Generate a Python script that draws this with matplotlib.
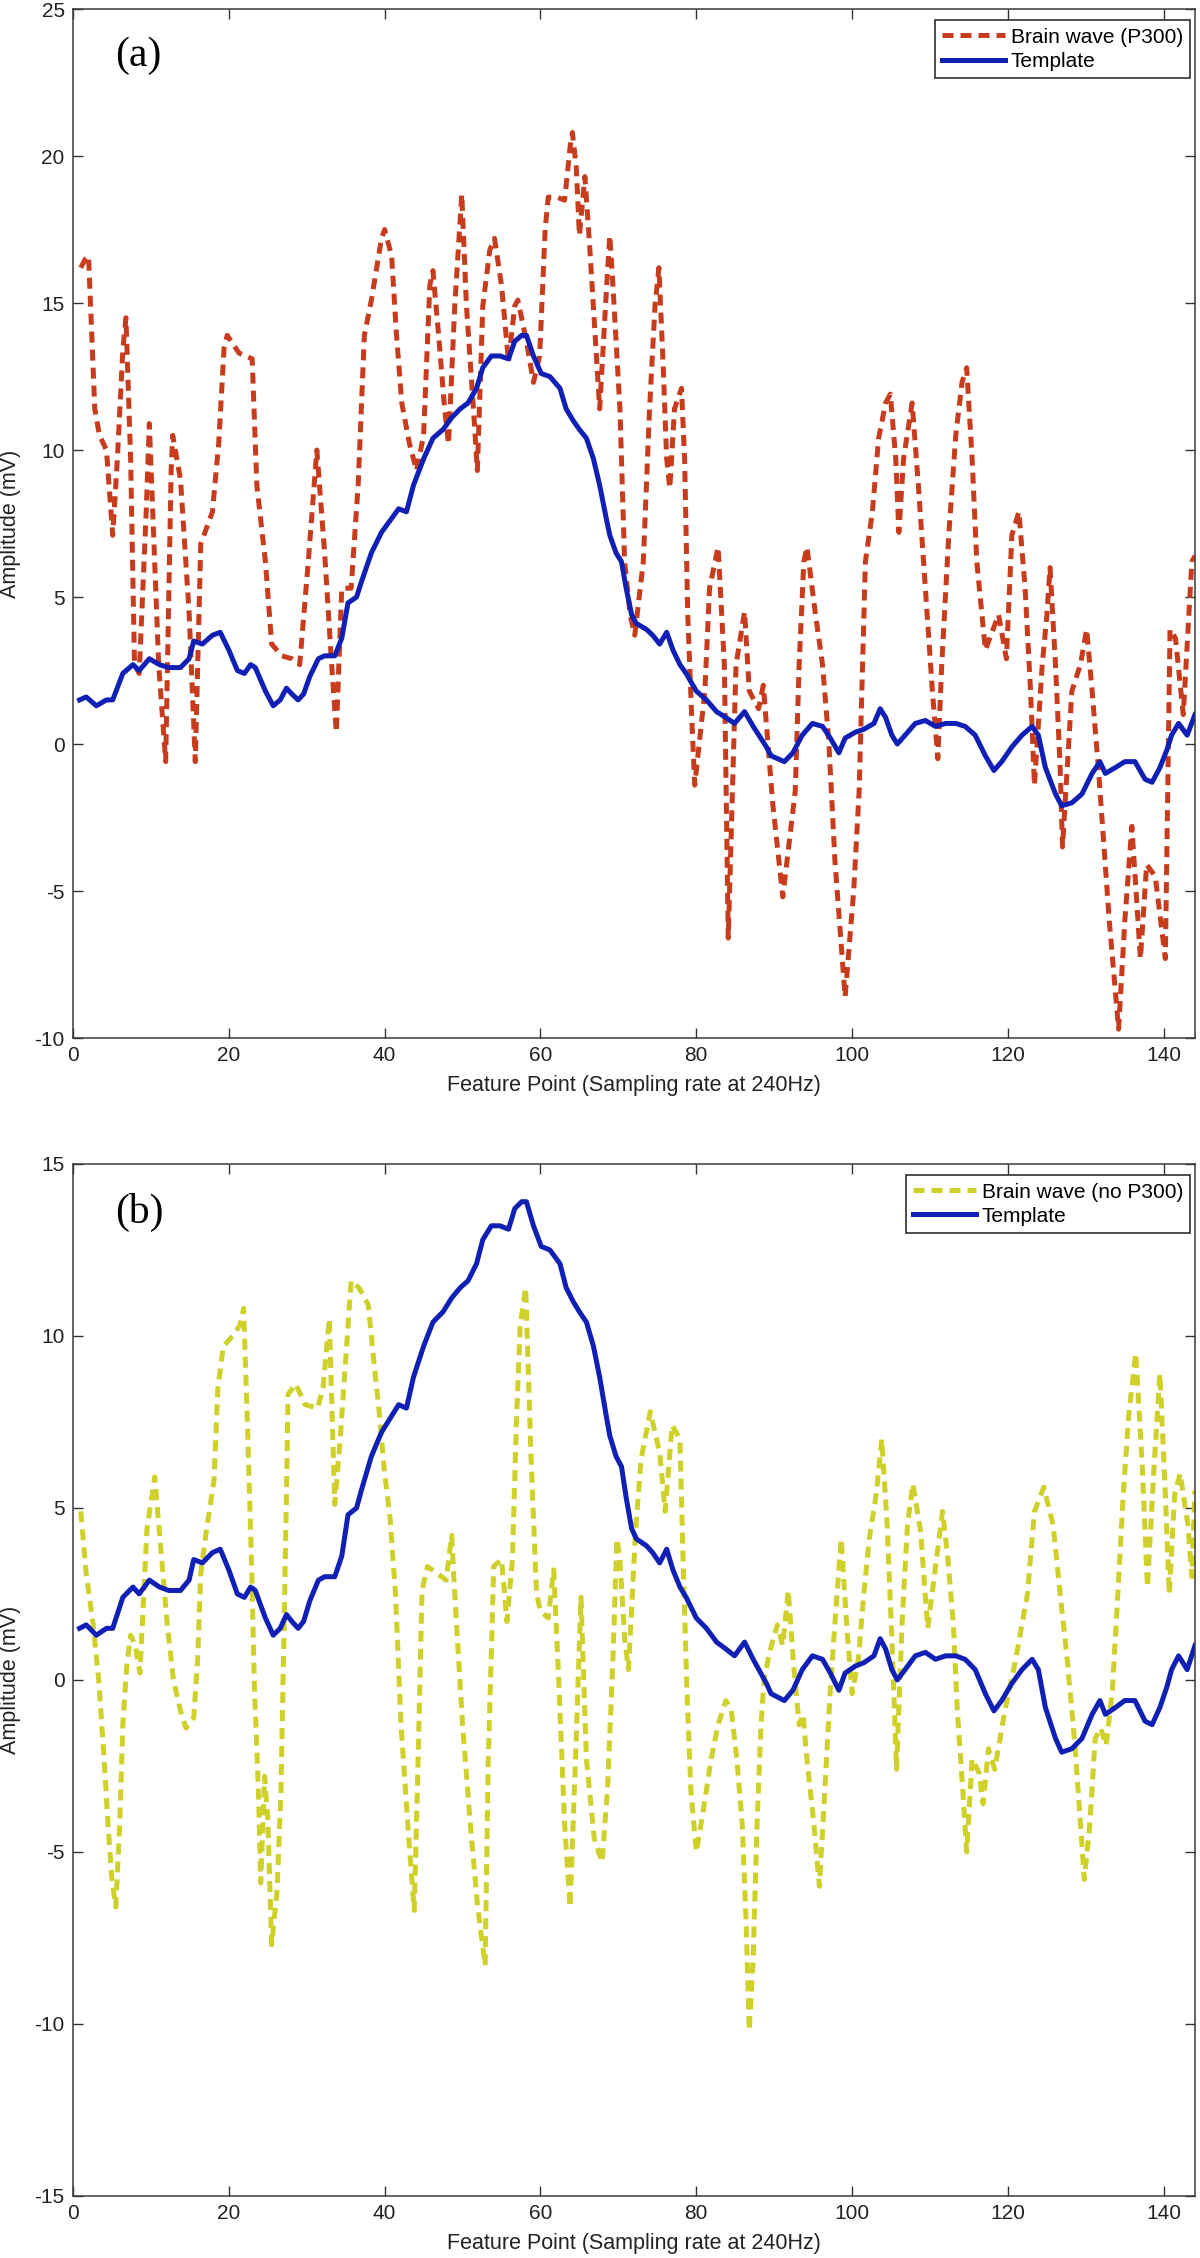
import matplotlib.pyplot as plt

plt.rcParams['font.family'] = ['Liberation Sans', 'DejaVu Sans']
plt.rcParams['axes.unicode_minus'] = False

# ---- panel (a): brain wave with P300 ----
p300_x = [1.0, 1.6, 2.0, 2.8, 3.4, 4.3, 5.1, 5.7, 6.4, 6.8, 7.4, 7.9, 8.5, 9.4, 9.8,
          11.0, 11.9, 12.6, 12.8, 13.8, 14.9, 15.7, 16.4, 17.9, 18.7, 19.4, 19.8, 21.3,
          23.0, 23.6, 24.7, 25.5, 26.8, 28.1, 29.1, 30.2, 31.3, 32.3, 33.2, 33.8, 34.5,
          35.7, 36.6, 37.4, 38.3, 39.6, 40.0, 40.9, 41.5, 42.2, 43.2, 44.1, 45.0, 45.8,
          46.2, 46.9, 47.7, 48.2, 49.0, 49.9, 50.5, 51.4, 51.9, 52.6, 53.5, 54.1, 55.0,
          55.9, 56.7, 57.1, 58.2, 59.1, 59.9, 60.6, 61.0, 62.1, 63.1, 63.8, 64.1, 64.6,
          65.0, 65.7, 66.3, 67.0, 67.6, 68.5, 68.9, 69.3, 70.2, 70.8, 71.5, 72.1, 73.2,
          74.0, 74.7, 75.2, 75.7, 76.2, 76.6, 77.2, 78.1, 78.5, 78.9, 79.4, 79.8, 81.1,
          81.7, 82.8, 83.6, 84.1, 85.1, 86.2, 86.8, 88.0, 88.6, 89.8, 91.1, 92.7, 93.2,
          93.8, 94.2, 95.3, 96.2, 97.0, 97.8, 99.1, 100.2, 100.9, 101.7, 102.6, 103.4,
          104.3, 104.9, 105.6, 106.0, 106.6, 107.7, 108.5, 109.4, 110.3, 111.0, 111.5,
          112.4, 113.3, 114.1, 114.7, 115.4, 116.0, 117.1, 118.8, 119.8, 120.5, 121.4,
          122.2, 122.9, 123.4, 124.4, 125.0, 125.4, 126.1, 126.7, 127.0, 128.2, 129.3,
          130.1, 130.8, 131.6, 133.0, 134.2, 135.0, 135.9, 137.0, 137.8, 138.9, 140.2,
          140.8, 141.5, 142.5, 143.6, 144.0]
p300_y = [16.2, 16.5, 16.6, 11.4, 10.5, 10.0, 7.1, 9.7, 13.4, 14.5, 9.7, 2.7, 2.4, 7.9, 10.9,
          2.7, -0.6, 9.3, 10.5, 9.0, 4.5, -0.6, 6.8, 7.9, 10.2, 13.5, 13.9, 13.3,
          13.1, 8.8, 6.2, 3.4, 3.0, 2.9, 2.7, 6.2, 10.0, 6.5, 2.7, 0.4, 5.3,
          5.3, 8.8, 13.9, 15.1, 17.2, 17.5, 16.6, 14.0, 11.6, 10.2, 9.3, 10.5, 15.6,
          16.1, 14.0, 11.4, 10.2, 14.9, 18.7, 14.9, 11.4, 9.3, 14.9, 16.8, 17.2, 15.6,
          13.0, 14.9, 15.1, 13.7, 12.3, 13.2, 17.5, 18.6, 18.6, 18.5, 20.3, 20.8, 19.6,
          17.3, 19.3, 17.0, 14.0, 11.4, 15.6, 17.3, 15.6, 11.4, 6.2, 4.4, 3.7, 6.2,
          11.4, 14.9, 16.2, 13.2, 9.7, 8.7, 11.4, 12.1, 9.7, 4.4, 1.0, -1.4, 1.8,
          5.3, 6.7, 2.7, -6.6, 2.7, 4.5, 1.8, 1.2, 2.0, -2.0, -5.2, -1.6, 2.7,
          6.2, 6.7, 4.4, 2.7, 0.1, -4.0, -8.6, -5.0, -1.6, 6.2, 7.9, 10.4,
          11.6, 11.9, 9.7, 7.2, 9.7, 11.6, 8.8, 5.3, 1.8, -0.5, 2.7,
          7.1, 10.5, 12.3, 12.8, 9.7, 6.2, 3.2, 4.4, 2.9, 7.1, 7.9,
          5.3, 1.8, -1.4, 2.7, 4.4, 6.0, 2.7, -0.8, -3.5, 1.8, 2.7,
          3.9, 1.8, -0.8, -6.0, -9.7, -6.0, -2.8, -7.3, -4.1, -4.5, -7.3,
          3.9, 3.6, 1.0, 6.2, 6.4]

# ---- template (same in both panels) ----
tmpl_x = [0.85, 1.7, 3.0, 4.3, 5.1, 6.4, 7.7, 8.5, 9.8, 11.1, 12.3, 13.8, 14.9, 15.5, 16.6,
          17.9, 18.9, 20.0, 21.1, 22.0, 22.8, 23.4, 24.7, 25.7, 26.6, 27.4, 28.1, 28.9,
          29.6, 30.4, 31.5, 32.3, 33.6, 34.5, 35.3, 36.4, 37.0, 38.3, 39.6, 40.7, 41.8,
          42.8, 43.7, 45.0, 46.2, 47.5, 48.6, 49.7, 50.7, 51.8, 52.6, 53.7, 54.8, 55.9,
          56.7, 57.6, 58.2, 59.1, 60.1, 61.2, 62.5, 63.3, 64.2, 65.0, 65.9, 66.8, 67.6,
          68.5, 68.9, 69.7, 70.4, 71.0, 71.7, 72.3, 73.6, 74.4, 75.3, 76.2, 77.0, 77.9,
          78.7, 80.0, 81.3, 82.6, 83.8, 84.9, 86.2, 87.3, 89.0, 89.6, 91.3, 92.4, 93.6,
          94.9, 96.2, 97.2, 98.3, 99.1, 100.4, 101.5, 102.8, 103.6, 104.3, 105.1, 105.8,
          106.8, 108.1, 109.4, 110.7, 112.0, 113.3, 114.5, 115.8, 117.1, 118.2, 119.2,
          120.5, 121.8, 123.1, 123.9, 124.8, 126.1, 126.9, 128.2, 129.5, 130.8, 131.8,
          132.5, 133.8, 135.0, 136.3, 137.6, 138.5, 139.5, 140.4, 141.0, 141.9, 143.0, 144.0]
tmpl_y = [1.5, 1.6, 1.3, 1.5, 1.5, 2.4, 2.7, 2.5, 2.9, 2.7, 2.6, 2.6, 2.9, 3.5, 3.4,
          3.7, 3.8, 3.2, 2.5, 2.4, 2.7, 2.6, 1.8, 1.3, 1.5, 1.9, 1.7, 1.5,
          1.7, 2.3, 2.9, 3.0, 3.0, 3.6, 4.8, 5.0, 5.5, 6.5, 7.2, 7.6, 8.0,
          7.9, 8.8, 9.7, 10.4, 10.7, 11.1, 11.4, 11.6, 12.1, 12.8, 13.2, 13.2, 13.1,
          13.7, 13.9, 13.9, 13.2, 12.6, 12.5, 12.1, 11.4, 11.0, 10.7, 10.4, 9.7, 8.8,
          7.6, 7.1, 6.5, 6.2, 5.3, 4.4, 4.1, 3.9, 3.7, 3.4, 3.8, 3.2, 2.7,
          2.4, 1.8, 1.5, 1.1, 0.9, 0.7, 1.1, 0.6, -0.1, -0.4, -0.6, -0.3, 0.3,
          0.7, 0.6, 0.2, -0.3, 0.2, 0.4, 0.5, 0.7, 1.2, 0.9, 0.3, 0.0,
          0.3, 0.7, 0.8, 0.6, 0.7, 0.7, 0.6, 0.3, -0.4, -0.9, -0.6,
          -0.1, 0.3, 0.6, 0.3, -0.8, -1.7, -2.1, -2.0, -1.7, -1.0, -0.6,
          -1.0, -0.8, -0.6, -0.6, -1.2, -1.3, -0.8, -0.2, 0.3, 0.7, 0.3, 1.0]

# ---- panel (b): brain wave without P300 ----
nop300_x = [1.0, 1.7, 2.6, 3.3, 4.0, 4.5, 5.0, 5.5, 6.0, 6.4, 6.9, 7.4, 8.0, 8.6, 9.5,
            10.5, 11.4, 12.1, 12.9, 13.8, 14.5, 15.5, 16.0, 16.4, 17.1, 18.1, 18.6, 19.3,
            20.5, 21.4, 21.9, 22.4, 22.9, 23.3, 23.8, 24.1, 24.6, 25.0, 25.5, 26.2, 26.7,
            27.1, 27.4, 27.6, 28.6, 29.8, 31.4, 32.1, 32.9, 33.3, 33.6, 34.3, 35.0, 35.7,
            36.7, 37.9, 38.6, 39.3, 40.0, 40.7, 41.4, 42.1, 43.1, 43.8, 44.3, 44.8, 45.5,
            46.7, 47.9, 48.6, 49.0, 50.0, 51.0, 51.9, 52.9, 53.3, 53.8, 54.0, 55.0, 55.7,
            56.4, 56.9, 57.4, 58.1, 58.8, 59.5, 60.0, 61.0, 61.7, 62.4, 63.1, 63.8, 64.5,
            65.2, 65.9, 66.9, 67.9, 68.6, 69.3, 69.8, 70.2, 70.8, 71.3, 72.2, 72.9, 74.1,
            75.3, 76.0, 76.9, 77.9, 78.3, 78.8, 79.3, 80.0, 80.9, 81.9, 82.8, 83.8, 84.5,
            85.2, 85.9, 86.4, 86.8, 87.3, 87.8, 88.3, 88.7, 89.4, 90.4, 91.1, 91.8, 92.5,
            93.2, 93.7, 94.2, 95.1, 95.8, 96.5, 97.2, 97.9, 98.6, 99.3, 100.0, 100.8, 101.5,
            102.2, 103.1, 103.8, 104.5, 105.2, 105.7, 106.4, 107.1, 107.8, 108.8, 109.7,
            110.7, 111.6, 112.3, 113.0, 113.5, 114.2, 114.7, 115.4, 116.3, 116.8, 117.5,
            118.3, 119.6, 121.0, 122.5, 123.4, 124.6, 125.8, 126.7, 127.6, 128.6, 129.3,
            129.8, 130.5, 131.2, 131.9, 132.6, 133.4, 134.1, 134.8, 135.5, 136.4, 137.2,
            137.9, 138.8, 139.5, 140.2, 140.7, 141.4, 142.1, 143.1, 143.6, 144.0]
nop300_y = [4.9, 3.1, 1.6, 0.0, -2.3, -4.2, -5.8, -6.6, -4.2, -1.3, 0.4, 1.3, 1.0, 0.2, 4.4,
            5.9, 3.5, 1.6, 0.0, -0.9, -1.4, -1.1, 0.6, 3.1, 4.3, 5.8, 8.5, 9.7,
            10.0, 10.3, 10.8, 7.4, 3.5, -0.3, -3.2, -5.9, -2.8, -4.0, -7.7, -6.1, -3.2,
            1.6, 5.4, 8.3, 8.6, 8.0, 7.9, 8.5, 10.5, 7.4, 5.1, 7.0, 9.3, 11.6,
            11.4, 10.9, 9.3, 7.8, 6.0, 4.7, 2.5, -1.3, -4.6, -6.7, -2.3, 2.6, 3.3,
            3.1, 2.9, 4.2, 2.5, -1.3, -4.2, -6.5, -8.3, -2.3, 1.6, 3.3, 3.5, 1.7,
            3.5, 7.4, 10.3, 11.4, 6.4, 2.5, 2.0, 1.8, 3.2, -0.3, -4.2, -6.6, -2.3,
            2.4, -2.3, -4.6, -5.3, -3.2, 0.6, 4.1, 3.5, 1.2, 0.3, 4.3, 6.4, 7.8,
            6.6, 4.9, 7.4, 7.0, 3.5, -0.3, -3.2, -5.0, -3.8, -2.3, -1.3, -0.6, -0.9,
            -2.3, -4.2, -7.1, -10.2, -8.1, -4.2, -1.3, 0.0, 0.8, 1.6, 1.0, 2.6, 0.4,
            -1.3, -1.0, -2.3, -4.2, -6.0, -3.2, -0.3, 2.0, 4.1, 1.6, -0.4, 0.6, 2.5,
            4.1, 5.4, 7.0, 4.5, 0.6, -2.6, 1.6, 4.5, 5.7, 4.3, 1.5,
            3.3, 4.9, 3.5, 1.6, -0.9, -3.2, -5.0, -2.3, -2.7, -3.6, -2.0,
            -2.6, -0.9, 0.6, 2.5, 4.9, 5.6, 4.5, 2.5, 0.6, -1.9, -4.2,
            -5.8, -4.2, -1.7, -1.4, -1.9, -0.3, 2.5, 5.4, 7.7, 9.5, 6.4,
            2.7, 6.4, 8.9, 5.4, 2.5, 5.4, 6.0, 4.5, 3.0, 5.5]

xticks = [0, 20, 40, 60, 80, 100, 120, 140]

red = '#C83C1E'
yellow = '#D0D02A'
blue = '#1020B4'
dash = (0, (2.2, 1.4))

fig = plt.figure(figsize=(12, 22.58), dpi=100)
ax_a = fig.add_axes([0.0608, 0.5403, 0.935, 0.4557])
ax_b = fig.add_axes([0.0608, 0.02746, 0.935, 0.4571])

panels = [
    (ax_a, p300_x, p300_y, red, 'Brain wave (P300)', (-10, 25), '(a)', 23.4),
    (ax_b, nop300_x, nop300_y, yellow, 'Brain wave (no P300)', (-15, 15), '(b)', 13.6),
]

for ax, wx, wy, col, lab, ylim, tag, tag_y in panels:
    ax.plot(wx, wy, color=col, lw=3.6, linestyle=dash, label=lab)
    ax.plot(tmpl_x, tmpl_y, color=blue, lw=3.6, label='Template')
    ax.set_xlim(0, 144)
    ax.set_ylim(*ylim)
    ax.set_xticks(xticks)
    ax.set_yticks(range(ylim[0], ylim[1] + 1, 5))
    ax.tick_params(direction='in', top=True, right=True, length=7, width=1,
                   color='#333333', labelsize=15, labelcolor='#222222', pad=6)
    for s in ax.spines.values():
        s.set_color('#3a3a3a')
        s.set_linewidth(1.1)
    ax.set_xlabel('Feature Point (Sampling rate at 240Hz)', fontsize=15.5, color='#222222')
    ax.set_ylabel('Amplitude (mV)', fontsize=15.5, color='#222222')
    ax.xaxis.set_label_coords(0.5, -0.036)
    ax.yaxis.set_label_coords(-0.046, 0.5)
    ax.text(5.4, tag_y, tag, family=['Liberation Serif', 'DejaVu Serif'],
            fontsize=30, ha='left', va='center')
    leg = ax.legend(loc='upper right', bbox_to_anchor=(0.996, 0.989), borderaxespad=0,
                    fontsize=15, handlelength=3.0, handletextpad=0.3, labelspacing=0.25,
                    borderpad=0.35, fancybox=False, framealpha=1, edgecolor='#303030')
    leg.get_frame().set_linewidth(1.2)

fig.savefig('out.png', dpi=100)
